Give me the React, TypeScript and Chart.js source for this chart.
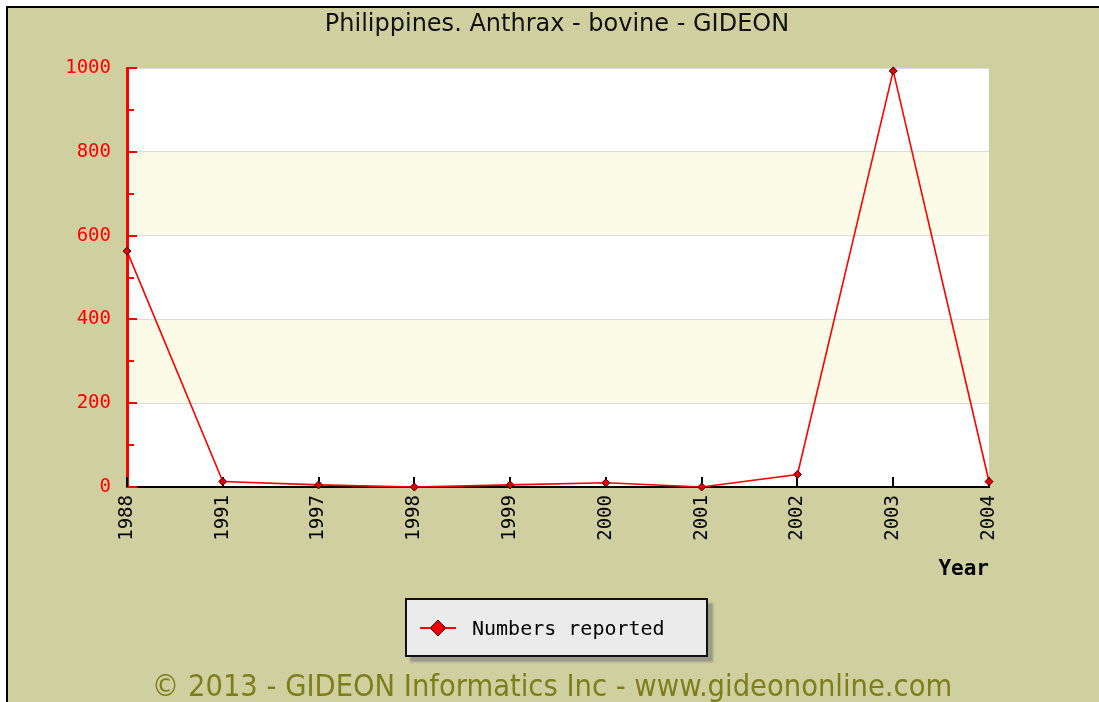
import React, { useEffect, useRef } from 'react';
import { Chart, registerables } from 'chart.js';

Chart.register(...registerables);

const years = ['1988', '1991', '1997', '1998', '1999', '2000', '2001', '2002', '2003', '2004'];
const reported = [563, 13, 5, 0, 5, 10, 0, 30, 993, 13];
const yMin = 0;
const yMax = 1000;
const yStep = 200;
const yMinorStep = 100;
const shadedBands = [[600, 800], [200, 400]];

const TITLE = 'Philippines. Anthrax - bovine - GIDEON';
const SERIES = 'Numbers reported';
const X_TITLE = 'Year';
const FOOTER = '\u00A9 2013 - GIDEON Informatics Inc - www.gideononline.com';

const BG = '#cfcfa0';
const BAND = '#fbfbe8';

const framePlugin = {
  id: 'framePlugin',
  beforeDraw(chart: any) {
    const { ctx, width, height, chartArea: a, scales } = chart;
    const y = scales.y;
    ctx.save();
    ctx.fillStyle = '#ffffff';
    ctx.fillRect(0, 0, width, height);
    ctx.fillStyle = BG;
    ctx.fillRect(6, 6, width - 6, height - 6);
    ctx.fillStyle = '#000000';
    ctx.fillRect(6, 6, width - 6, 2);
    ctx.fillRect(6, 6, 2, height - 6);
    ctx.fillStyle = '#ffffff';
    ctx.fillRect(a.left, a.top, a.right - a.left, a.bottom - a.top);
    ctx.fillStyle = BAND;
    for (const [lo, hi] of shadedBands) {
      const t = y.getPixelForValue(hi);
      const b = y.getPixelForValue(lo);
      ctx.fillRect(a.left, t, a.right - a.left, b - t);
    }
    ctx.restore();
  },
  beforeDatasetsDraw(chart: any) {
    const { ctx, chartArea: a, scales } = chart;
    const x = scales.x;
    const y = scales.y;
    ctx.save();
    ctx.strokeStyle = '#ff0000';
    ctx.lineWidth = 2;
    for (let v = yMin; v <= yMax; v += yMinorStep) {
      const py = Math.round(y.getPixelForValue(v));
      const len = v % yStep === 0 ? 10 : 7;
      ctx.beginPath();
      ctx.moveTo(a.left, py);
      ctx.lineTo(a.left + len, py);
      ctx.stroke();
    }
    ctx.strokeStyle = '#000000';
    ctx.lineWidth = 2;
    for (let i = 0; i < years.length; i++) {
      const px = Math.round(x.getPixelForTick(i));
      ctx.beginPath();
      ctx.moveTo(px, a.bottom - 10);
      ctx.lineTo(px, a.bottom);
      ctx.stroke();
    }
    ctx.restore();
  },
};

export default function App() {
  const canvasRef = useRef<HTMLCanvasElement | null>(null);

  useEffect(() => {
    const canvas = canvasRef.current;
    if (!canvas) return;
    const chart = new Chart(canvas, {
      type: 'line',
      data: {
        labels: years,
        datasets: [
          {
            label: SERIES,
            data: reported,
            borderColor: '#ff0000',
            backgroundColor: '#ff0000',
            borderWidth: 1.6,
            pointStyle: 'rectRot',
            pointRadius: 4,
            pointBackgroundColor: '#e00000',
            pointBorderColor: '#3a0000',
            pointBorderWidth: 1,
            tension: 0,
            clip: false as any,
          },
        ],
      },
      options: {
        animation: false,
        responsive: false,
        maintainAspectRatio: false,
        layout: { padding: { top: 68, right: 110, bottom: 120, left: 0 } },
        plugins: {
          legend: { display: false },
          title: { display: false },
          tooltip: { enabled: false },
        },
        scales: {
          x: {
            type: 'category',
            offset: false,
            ticks: {
              color: '#000000',
              font: { family: 'DejaVu Sans Mono', size: 19 },
              minRotation: 90,
              maxRotation: 90,
              padding: 8,
              autoSkip: false,
            },
            grid: { display: true, drawOnChartArea: false, drawTicks: false, color: 'rgba(0,0,0,0)' },
            border: { display: true, color: '#000000', width: 2 },
            title: {
              display: true,
              text: X_TITLE,
              align: 'end',
              color: '#000000',
              font: { family: 'DejaVu Sans Mono', size: 21, weight: 'bold' },
              padding: 0,
            },
            afterFit(s: any) {
              s.height = 95;
            },
          },
          y: {
            min: yMin,
            max: yMax,
            ticks: {
              stepSize: yStep,
              color: '#ff0000',
              font: { family: 'DejaVu Sans Mono', size: 19 },
              padding: 16,
              callback: (v: any) => String(v),
            },
            grid: { color: '#dcdcdc', lineWidth: 1, drawTicks: false },
            border: { display: true, color: '#ff0000', width: 3 },
            afterFit(s: any) {
              s.width = 127;
            },
          },
        },
      },
      plugins: [framePlugin],
    } as any);
    return () => chart.destroy();
  }, []);

  return (
    <div style={{ position: 'fixed', left: 0, top: 0, width: 1099, height: 702, overflow: 'hidden' }}>
      <canvas ref={canvasRef} width={1099} height={702} style={{ display: 'block', width: 1099, height: 702 }} />
      <div
        style={{
          position: 'absolute',
          left: 557,
          top: 9,
          transform: 'translateX(-50%)',
          whiteSpace: 'nowrap',
          fontFamily: '"DejaVu Sans", sans-serif',
          fontSize: 24,
          lineHeight: '28px',
          color: '#111111',
        }}
      >
        {TITLE}
      </div>
      <div
        style={{
          position: 'absolute',
          left: 405,
          top: 598,
          width: 303,
          height: 59,
          boxSizing: 'border-box',
          background: '#ebebeb',
          border: '2px solid #111111',
          boxShadow: '5px 5px 2px #9a9a8a',
          display: 'flex',
          alignItems: 'center',
        }}
      >
        <svg width={36} height={20} style={{ marginLeft: 13, display: 'block' }}>
          <line x1={0} y1={10} x2={36} y2={10} stroke="#ff0000" strokeWidth={2} />
          <polygon points="18,2 26,10 18,18 10,10" fill="#ee0000" stroke="#2a0000" strokeWidth={1} />
        </svg>
        <span
          style={{
            marginLeft: 16,
            fontFamily: '"DejaVu Sans Mono", monospace',
            fontSize: 20,
            color: '#000000',
            whiteSpace: 'nowrap',
          }}
        >
          {SERIES}
        </span>
      </div>
      <div
        style={{
          position: 'absolute',
          left: 552,
          top: 671,
          transform: 'translateX(-50%)',
          whiteSpace: 'nowrap',
          fontFamily: '"DejaVu Sans Condensed", "DejaVu Sans", sans-serif',
          fontStretch: 'condensed',
          fontSize: 30.5,
          lineHeight: '30px',
          color: '#7e7e1c',
        }}
      >
        {FOOTER}
      </div>
    </div>
  );
}
